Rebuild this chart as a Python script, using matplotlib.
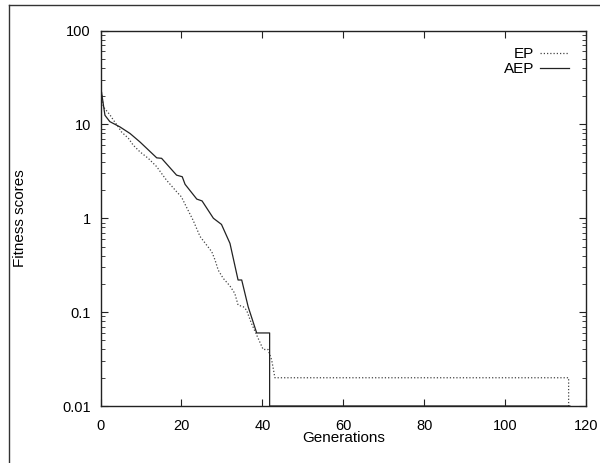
import matplotlib
matplotlib.use("Agg")
import matplotlib.pyplot as plt
from matplotlib.lines import Line2D
from matplotlib.ticker import LogLocator, FixedLocator, NullFormatter

plt.rcParams['font.family'] = ['Liberation Sans', 'DejaVu Sans']

ep_gen = [0, 0.7, 2.35, 3.2, 4.4, 5.2, 6.9, 8.1, 9.75, 11.8,
          13.9, 15.1, 16.3, 18.8, 20.0, 21.3, 22.9, 24.6, 26.2, 27.5,
          28.3, 29.1, 30.3, 32.0, 33.2, 34.0, 35.3, 36.1, 37.3, 40.2,
          41.4, 42.3, 42.7, 43.1, 115.7, 115.7]
ep_val = [26, 15.4, 12.6, 11.1, 9.4, 8.3, 7.1, 6.0, 5.1, 4.35,
          3.54, 3.0, 2.55, 1.92, 1.69, 1.3, 0.95, 0.64, 0.52, 0.44,
          0.36, 0.28, 0.23, 0.19, 0.158, 0.119, 0.114, 0.105, 0.076, 0.04,
          0.04, 0.031, 0.025, 0.02, 0.02, 0.01]

aep_gen = [0, 1.1, 2.3, 4.8, 7.3, 9.75, 13.9, 15.1, 18.8, 20.2,
           20.9, 23.8, 25.1, 27.9, 29.9, 32.0, 34.0, 34.9, 36.5, 38.6,
           41.8, 41.8, 116]
aep_val = [26, 12.5, 10.7, 9.4, 8.0, 6.5, 4.4, 4.35, 2.88, 2.77,
           2.3, 1.6, 1.53, 1.0, 0.86, 0.54, 0.22, 0.22, 0.114, 0.06,
           0.06, 0.01, 0.01]

x_ticks = [0, 20, 40, 60, 80, 100, 120]
y_ticks = [0.01, 0.1, 1, 10, 100]
y_tick_labels = ['0.01', '0.1', '1', '10', '100']

fig = plt.figure(figsize=(6, 4.63), dpi=100)
ax = fig.add_axes([0.1675, 0.1231, 0.8092, 0.8110])

ax.plot(ep_gen, ep_val, color='#444444', lw=0.9, ls=(0, (1, 1.6)), label='EP')
ax.plot(aep_gen, aep_val, color='#222222', lw=0.9, ls='-', label='AEP')

ax.set_yscale('log')
ax.set_xlim(0, 120)
ax.set_ylim(0.01, 100)
ax.xaxis.set_major_locator(FixedLocator(x_ticks))
ax.set_xticklabels([str(t) for t in x_ticks])
ax.yaxis.set_major_locator(FixedLocator(y_ticks))
ax.set_yticklabels(y_tick_labels)
ax.yaxis.set_minor_locator(LogLocator(base=10, subs=range(2, 10)))
ax.yaxis.set_minor_formatter(NullFormatter())

ax.tick_params(which='both', direction='in', top=True, right=True,
               labelsize=10.5, color='#222222')
ax.tick_params(which='major', length=5, width=0.8)
ax.tick_params(which='minor', length=3, width=0.6)
ax.tick_params(axis='y', which='major', pad=7)
ax.tick_params(axis='x', which='major', pad=9)
for s in ax.spines.values():
    s.set_linewidth(1.0)
    s.set_color('#222222')

ax.set_xlabel('Generations', fontsize=11, labelpad=-1)
ax.set_ylabel('Fitness scores', fontsize=11, labelpad=25)

leg = ax.legend(loc='upper right', frameon=False, fontsize=11,
                markerfirst=False, handlelength=1.9, handletextpad=0.4,
                borderaxespad=0.7, labelspacing=0.05)
for t in leg.get_texts():
    t.set_ha('right')

# outer scanned frame (left and top edges)
fig.add_artist(Line2D([8.5/600, 8.5/600], [0, 1 - 5.4/463], transform=fig.transFigure,
                      color='#333333', lw=1.0))
fig.add_artist(Line2D([8.5/600, 1], [1 - 5.4/463, 1 - 5.4/463], transform=fig.transFigure,
                      color='#333333', lw=1.0))

fig.savefig('out.png', dpi=100)
